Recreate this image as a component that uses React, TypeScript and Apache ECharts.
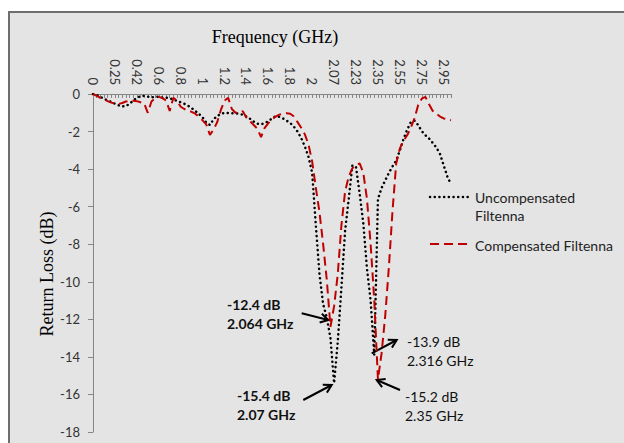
import React, { useEffect, useRef } from 'react';
import * as echarts from 'echarts';

const tickLabels = ['0', '0.25', '0.42', '0.6', '0.8', '1', '1.2', '1.4', '1.6', '1.8', '2', '2.07', '2.23', '2.35', '2.55', '2.75', '2.95'];
const pointsPerLabel = 6;
const pointCount = 99;

const uncompensated = [
  0, -0.05, -0.15, -0.25, -0.35, -0.42, -0.52, -0.6, -0.66, -0.65,
  -0.52, -0.35, -0.2, -0.12, -0.1, -0.14, -0.18, -0.16, -0.14, -0.19,
  -0.2, -0.22, -0.3, -0.36, -0.44, -0.52, -0.62, -0.75, -0.9, -1.06,
  -1.24, -1.52, -1.65, -1.35, -1.17, -1.06, -1.0, -1.02, -1.03, -1.03,
  -1.06, -1.1, -1.2, -1.32, -1.47, -1.58, -1.62, -1.55, -1.45, -1.3,
  -1.18, -1.22, -1.3, -1.42, -1.55, -1.74, -2.0, -2.35, -2.8, -3.35,
  -4.2, -7.0, -9.6, -11.2, -11.9, -13.0, -15.4, -13.2, -10.3, -7.3,
  -5.6, -3.8, -3.9, -5.3, -6.9, -9.3, -11.0, -13.9, -5.6, -5.0,
  -4.6, -4.2, -3.85, -3.55, -3.0, -2.4, -1.9, -1.5, -1.42, -1.65,
  -1.98, -2.2, -2.37, -2.6, -2.85, -3.2, -3.8, -4.4, -4.8,
];

const compensated = [
  0, -0.1, -0.2, -0.28, -0.38, -0.46, -0.5, -0.53, -0.48, -0.4,
  -0.36, -0.36, -0.38, -0.44, -0.5, -1.0, -0.4, -0.22, -0.15, -0.22,
  -0.35, -0.9, -0.2, -0.35, -0.68, -0.8, -0.88, -0.95, -1.05, -1.22,
  -1.4, -1.62, -2.18, -1.9, -1.5, -0.85, -0.35, -0.2, -0.8, -1.0,
  -1.0, -0.92, -1.25, -1.45, -1.65, -1.85, -2.3, -1.8, -1.55, -1.35,
  -1.2, -1.1, -1.05, -1.02, -1.05, -1.2, -1.5, -1.8, -2.15, -2.7,
  -3.6, -5.0, -6.3, -8.0, -9.9, -12.4, -11.3, -9.6, -7.0, -5.2,
  -4.4, -3.95, -3.8, -3.7, -4.2, -5.6, -8.0, -11.0, -15.2, -13.8,
  -11.8, -9.2, -6.2, -3.7, -2.9, -2.5, -2.2, -1.8, -1.3, -0.6,
  -0.25, -0.15, -0.55, -0.9, -1.05, -1.2, -1.3, -1.35, -1.4,
];

const seriesNames = ['Uncompensated Filtenna', 'Compensated Filtenna'];

const annotations = [
  { lines: ['-12.4 dB', '2.064 GHz'], bold: true, x: 227, y: 304, from: [301.7, 313.3], to: [328.3, 320] },
  { lines: ['-15.4 dB', '2.07 GHz'], bold: true, x: 237, y: 395, from: [303.3, 400], to: [331.7, 385] },
  { lines: ['-13.9 dB', '2.316 GHz'], bold: false, x: 407, y: 341, from: [371.7, 353.3], to: [396.7, 340] },
  { lines: ['-15.2 dB', '2.35 GHz'], bold: false, x: 405, y: 396, from: [400, 390], to: [376.7, 380] },
];

const OX = 10;
const OY = 13;

function arrow(from: number[], to: number[]) {
  const x1 = from[0] - OX, y1 = from[1] - OY, x2 = to[0] - OX, y2 = to[1] - OY;
  const ang = Math.atan2(y2 - y1, x2 - x1);
  const len = 9;
  const spread = Math.PI / 6;
  const h1 = [x2 - len * Math.cos(ang - spread), y2 - len * Math.sin(ang - spread)];
  const h2 = [x2 - len * Math.cos(ang + spread), y2 - len * Math.sin(ang + spread)];
  return [
    { type: 'line', shape: { x1, y1, x2, y2 }, style: { stroke: '#000', lineWidth: 2 } },
    { type: 'polyline', shape: { points: [h1, [x2, y2], h2] }, style: { stroke: '#000', lineWidth: 2, fill: 'none' } },
  ];
}

export default function App() {
  const ref = useRef<HTMLDivElement>(null);
  useEffect(() => {
    const chart = echarts.init(ref.current!, null, { renderer: 'svg' });
    const categories: string[] = [];
    for (let i = 0; i < pointCount; i++) {
      categories.push(i % pointsPerLabel === 0 && tickLabels[i / pointsPerLabel] !== undefined ? tickLabels[i / pointsPerLabel] : '');
    }
    const font = 'Lato';
    const graphics: any[] = [
      { type: 'text', x: 275 - OX, y: 37 - OY, style: { text: 'Frequency (GHz)', font: '18px "Liberation Serif"', fill: '#000', textAlign: 'center', textVerticalAlign: 'middle' } },
      { type: 'text', x: 47 - OX, y: 274 - OY, rotation: Math.PI / 2, style: { text: 'Return Loss (dB)', font: '18px "Liberation Serif"', fill: '#000', textAlign: 'center', textVerticalAlign: 'middle' } },
      { type: 'line', shape: { x1: 430 - OX, y1: 197 - OY, x2: 469 - OX, y2: 197 - OY }, style: { stroke: '#000', lineWidth: 2.5, lineDash: [0.1, 4.6], lineCap: 'round' } },
      { type: 'text', x: 475 - OX, y: 197 - OY, style: { text: 'Uncompensated', font: `14px ${font}`, fill: '#222', textVerticalAlign: 'middle' } },
      { type: 'text', x: 475 - OX, y: 215 - OY, style: { text: 'Filtenna', font: `14px ${font}`, fill: '#222', textVerticalAlign: 'middle' } },
      { type: 'line', shape: { x1: 430 - OX, y1: 244 - OY, x2: 469 - OX, y2: 244 - OY }, style: { stroke: '#c00000', lineWidth: 2, lineDash: [9, 5] } },
      { type: 'text', x: 475 - OX, y: 245 - OY, style: { text: 'Compensated Filtenna', font: `14px ${font}`, fill: '#222', textVerticalAlign: 'middle' } },
    ];
    annotations.forEach((a) => {
      a.lines.forEach((t, k) => {
        graphics.push({ type: 'text', x: a.x - OX, y: a.y + k * 19 - OY, style: { text: t, font: `${a.bold ? 'bold ' : ''}14px ${font}`, fill: '#111', textVerticalAlign: 'middle' } });
      });
      graphics.push(...arrow(a.from, a.to));
    });

    chart.setOption({
      animation: false,
      backgroundColor: '#e4e4e4',
      grid: { left: 83, top: 81, width: 358, height: 338 },
      xAxis: {
        type: 'category',
        position: 'top',
        data: categories,
        boundaryGap: false,
        axisLine: { onZero: false, lineStyle: { color: '#868686', width: 1 } },
        axisTick: { inside: true, length: 4, interval: 0, lineStyle: { color: '#868686' } },
        axisLabel: { interval: pointsPerLabel - 1, rotate: 90, margin: 9, color: '#333', fontFamily: font, fontSize: 13 },
        splitLine: { show: false },
      },
      yAxis: {
        type: 'value',
        min: -18,
        max: 0,
        interval: 2,
        axisLine: { show: true, lineStyle: { color: '#868686', width: 1 } },
        axisTick: { show: true, length: 5, lineStyle: { color: '#868686' } },
        axisLabel: { margin: 13, color: '#333', fontFamily: font, fontSize: 13 },
        splitLine: { show: false },
      },
      series: [
        {
          name: seriesNames[0],
          type: 'line',
          data: uncompensated,
          showSymbol: false,
          lineStyle: { color: '#000', width: 2.5, type: [0.1, 4.6], cap: 'round' },
        },
        {
          name: seriesNames[1],
          type: 'line',
          data: compensated,
          showSymbol: false,
          lineStyle: { color: '#c00000', width: 2, type: [9, 5] },
        },
      ],
      graphic: graphics,
    });
    return () => chart.dispose();
  }, []);
  return (
    <div style={{ position: 'fixed', left: 8, top: 11, width: 616, height: 432, boxSizing: 'border-box', borderLeft: '2px solid #6e6e6e', borderTop: '2px solid #6e6e6e', background: '#e4e4e4', overflow: 'hidden' }}>
      <div ref={ref} style={{ width: 614, height: 430 }} />
    </div>
  );
}
